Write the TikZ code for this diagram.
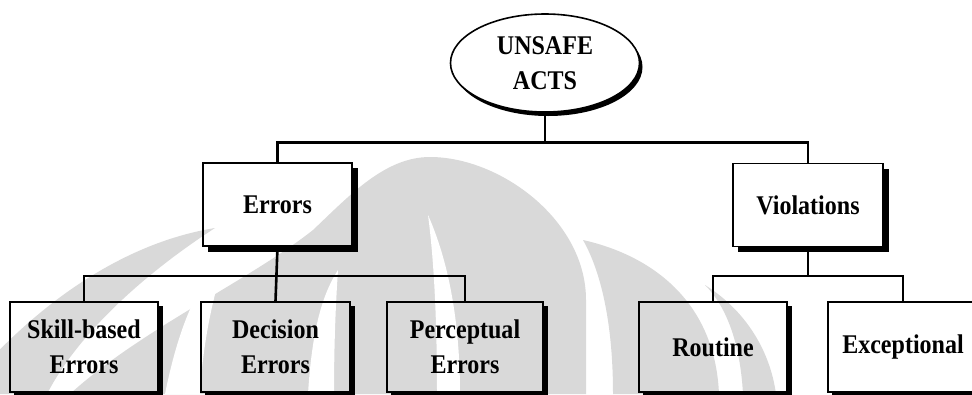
\documentclass[tikz,border=0pt]{standalone}
\usepackage{fontspec}
\setmainfont{Liberation Serif}[FakeStretch=0.89]
\usetikzlibrary{shapes.geometric,calc,shadows}
\definecolor{wm}{gray}{0.85}
% black drop strip along the right and bottom edge of a box: #1 node, #2 offset
\newcommand\boxshadow[2]{%
  \fill ($(#1.north east)+(0,#2+1)$) rectangle ($(#1.south east)+(#2,#2)$);
  \fill ($(#1.south west)+(#2+1,0)$) rectangle ($(#1.south east)+(#2,#2)$);}
\begin{document}
\begin{tikzpicture}[x=1pt,y=-1pt,
  lbl/.style={font=\fontsize{27}{35}\selectfont\bfseries, align=center, inner sep=0pt},
  box/.style={lbl, draw, line width=1.6pt, minimum width=149pt, minimum height=83pt},
  kid/.style={box, minimum height=90pt},
  link/.style={line width=2.6pt}]
\useasboundingbox (0,0) rectangle (972,394);
\clip (0,0) rectangle (972,394);

% faded emblem in the background
% outer left wing
\fill[wm] (-40,394) .. controls (20,320) and (110,245) .. (215,228)
  .. controls (150,270) and (80,330) .. (47,394) -- cycle;
% central flame
\fill[wm] (70,394) .. controls (140,330) and (250,280) .. (313,230)
  .. controls (350,195) and (385,157) .. (430,157)
  .. controls (500,157) and (586,220) .. (586,300) -- (586,394) -- cycle;
% light slivers cut into the flame
\fill[white] (165,394) .. controls (180,320) and (200,280) .. (228,252)
  .. controls (214,290) and (203,340) .. (200,394) -- cycle;
\fill[white] (308,394) .. controls (312,330) and (322,295) .. (338,270)
  .. controls (336,300) and (334,340) .. (334,394) -- cycle;
\fill[white] (437,394) .. controls (437,320) and (434,260) .. (428,215)
  .. controls (448,260) and (460,320) .. (460,394) -- cycle;
% right wings
\fill[wm] (613,394) .. controls (613,320) and (600,270) .. (583,240)
  .. controls (650,255) and (715,300) .. (719,394) -- cycle;
\fill[wm] (743,394) .. controls (740,340) and (725,305) .. (705,285)
  .. controls (745,310) and (770,350) .. (776,394) -- cycle;

% tree
\node[lbl, ellipse, draw, line width=1.6pt, fill=white,
  minimum width=189pt, minimum height=98pt,
  drop shadow={shadow xshift=3pt, shadow yshift=-4pt, fill=black, opacity=1}]
  (acts) at (545,63) {UNSAFE\\ACTS};

\node[box] (errors) at (277.5,204.5) {Errors};
\node[box, minimum width=150pt] (violations) at (808,205) {Violations};

\node[kid, minimum width=148pt] (skill) at (84,347) {Skill-based\\Errors};
\node[kid] (decision) at (275.5,347) {Decision\\Errors};
\node[kid, minimum width=156pt] (perceptual) at (465,347) {Perceptual\\Errors};
\node[kid, minimum width=148pt] (routine) at (713,347) {Routine};
\node[kid, minimum width=150pt] (exceptional) at (903,347) {Exceptional};

\boxshadow{errors}{5}
\boxshadow{violations}{5}
\foreach \n in {skill,decision,perceptual,routine,exceptional} {\boxshadow{\n}{4}}

\coordinate (top) at ($(errors.north)+(0,-20)$);
\coordinate (low) at ($(errors.south)+(0,29)$);
\draw[link] (acts.south) -- (acts.south |- top);
\draw[link] (errors.north) |- (top) -| (violations.north);
\draw[link] (errors.south) -- (decision.north);
\draw[link] (skill.north) |- (low) -| (perceptual.north);
\draw[link] (violations.south) -- (violations.south |- low);
\draw[link] (routine.north) |- (low -| violations.south) -| (exceptional.north);
\end{tikzpicture}
\end{document}
